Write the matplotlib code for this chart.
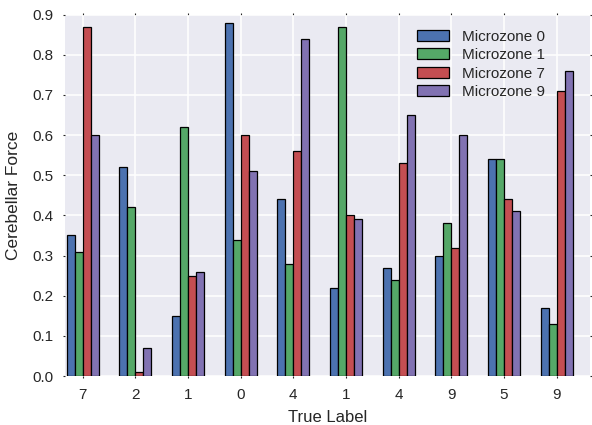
import matplotlib
matplotlib.use("Agg")
import matplotlib.pyplot as plt
import numpy as np

true_labels = ["7", "2", "1", "0", "4", "1", "4", "9", "5", "9"]
series_names = ["Microzone 0", "Microzone 1", "Microzone 7", "Microzone 9"]
microzone_0 = [0.35, 0.52, 0.15, 0.88, 0.44, 0.22, 0.27, 0.30, 0.54, 0.17]
microzone_1 = [0.31, 0.42, 0.62, 0.34, 0.28, 0.87, 0.24, 0.38, 0.54, 0.13]
microzone_7 = [0.87, 0.01, 0.25, 0.60, 0.56, 0.40, 0.53, 0.32, 0.44, 0.71]
microzone_9 = [0.60, 0.07, 0.26, 0.51, 0.84, 0.39, 0.65, 0.60, 0.41, 0.76]
colors = ["#4C72B0", "#55A868", "#C44E52", "#8172B2"]

plt.rcParams["font.family"] = ["Liberation Sans", "DejaVu Sans"]

fig = plt.figure(figsize=(5.92, 4.25), dpi=100)
ax = fig.add_axes([65 / 592, 1 - 376 / 425, 525 / 592, (376 - 14.7) / 425])
ax.set_facecolor("#EAEAF2")
ax.set_axisbelow(True)
ax.grid(True, color="white", linewidth=1.1)
for s in ax.spines.values():
    s.set_visible(False)

index = np.arange(len(true_labels))
w = 0.152
series = [microzone_0, microzone_1, microzone_7, microzone_9]
for k, (vals, name, c) in enumerate(zip(series, series_names, colors)):
    ax.bar(index + 0.03 + k * w, vals, w, align="edge", color=c,
           edgecolor="black", linewidth=0.9, label=name)

ax.set_xticks(index + 0.03 + 2 * w)
ax.set_xticklabels(true_labels)
ax.set_xlim(0, 9.97)
ax.set_ylim(0, 0.9)
ax.set_yticks(np.arange(0, 0.91, 0.1))
ax.set_yticklabels([f"{v:.1f}" for v in np.arange(0, 0.91, 0.1)])
ax.tick_params(axis="both", labelsize=11, colors="#262626", direction="out",
               length=1.5, width=0.8, top=True, right=True, pad=7)
ax.set_xlabel("True Label", fontsize=12, color="#262626", labelpad=6)
ax.set_ylabel("Cerebellar Force", fontsize=12.5, color="#262626", labelpad=8)

leg = ax.legend(loc="upper right", bbox_to_anchor=(0.94, 0.997), frameon=False,
                fontsize=11, handlelength=2.1, handleheight=0.72,
                labelspacing=0.3, handletextpad=0.85)
for t in leg.get_texts():
    t.set_color("#262626")

fig.savefig("out.png", dpi=100)
